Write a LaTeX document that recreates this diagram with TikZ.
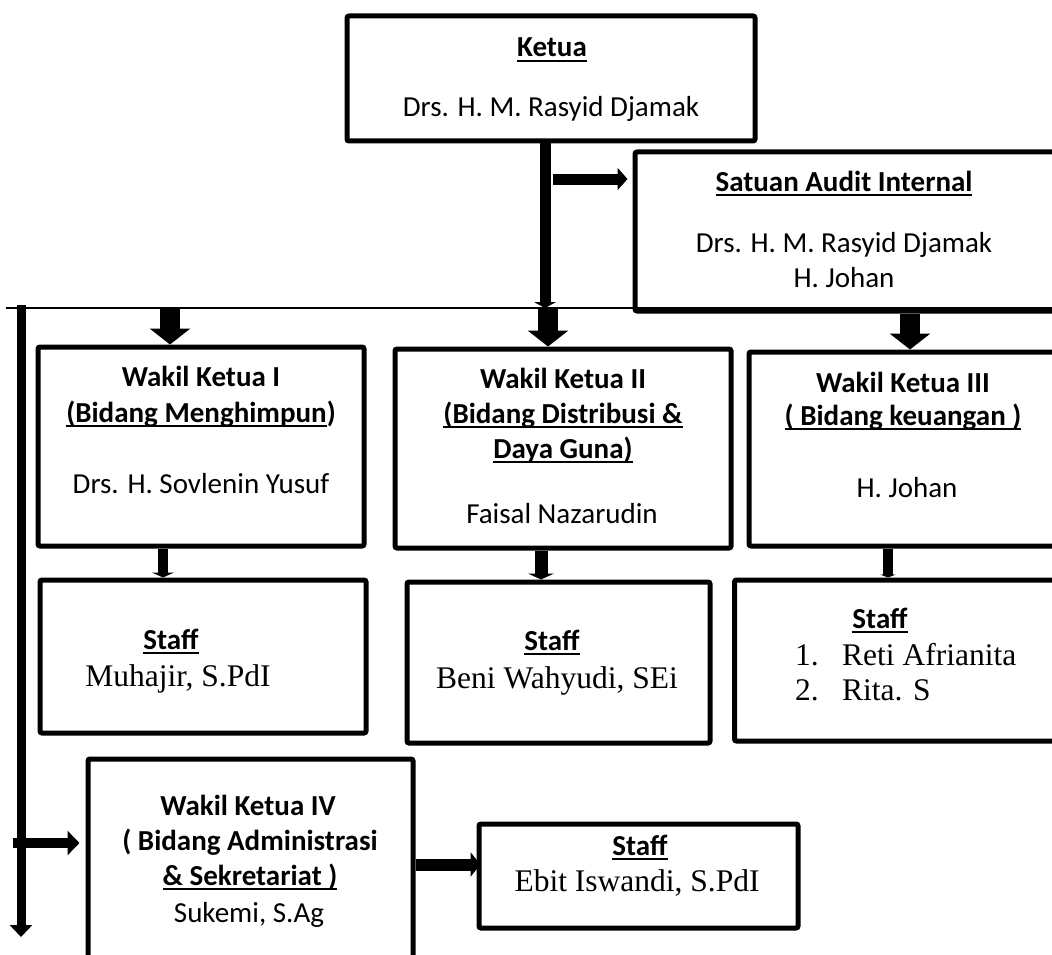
\documentclass[tikz,border=0pt]{standalone}
\usepackage{fontspec}
\setmainfont{Carlito}
\newfontfamily\tnr{Liberation Serif}
\usetikzlibrary{arrows.meta}
\newcommand{\myul}[1]{\leavevmode\setbox0\hbox{#1}\rlap{\rule[-5pt]{\wd0}{2pt}}\box0}
\begin{document}
\begin{tikzpicture}[x=1pt,y=-1pt,
  box/.style={draw, line width=5pt, rounded corners=2pt, inner sep=0pt},
  hd/.style={anchor=base, inner sep=0pt, font=\fontsize{29}{35}\selectfont\bfseries},
  nm/.style={anchor=base, inner sep=0pt, font=\fontsize{29}{35}\selectfont},
  tn/.style={anchor=base, inner sep=0pt, font=\tnr\fontsize{31.5}{37}\selectfont},
  bigarrow/.style={line width=20pt, -{Triangle[length=16pt,width=40pt]}},
  kline/.style={line width=11pt, -{Triangle[length=6pt,width=22pt]}},
  harrow/.style={line width=11pt, -{Triangle[length=10pt,width=22pt]}},
  smallarrow/.style={line width=10pt, -{Triangle[length=5pt,width=22pt]}},
  thin line/.style={line width=2pt},
]
\useasboundingbox (0,0) rectangle (1052,955);

% boxes
\node[box, minimum width=408pt, minimum height=125pt] (ketua) at (551,78.5) {};
\node[box, minimum width=420pt, minimum height=159pt] (audit) at (845,231.5) {};
\node[box, minimum width=326pt, minimum height=199pt] (wk1) at (201,446.5) {};
\node[box, minimum width=336pt, minimum height=199pt] (wk2) at (563,448.5) {};
\node[box, minimum width=308pt, minimum height=194pt] (wk3) at (903,449) {};
\node[box, minimum width=326pt, minimum height=153pt] (st1) at (203,656.5) {};
\node[box, minimum width=303pt, minimum height=161pt] (st2) at (558.5,662.5) {};
\node[box, minimum width=325pt, minimum height=161pt] (st3) at (897,660.5) {};
\node[box, minimum width=325pt, minimum height=211pt] (wk4) at (250.5,864.5) {};
\node[box, minimum width=319pt, minimum height=104pt] (st4) at (638.5,876) {};

% texts
\node[hd] (tk1) at (552,57) {\myul{Ketua}};
\node[nm] (tk2) at (551,117) {Drs. H. M. Rasyid Djamak};

\node[hd] (ta1) at (844,191) {\myul{Satuan Audit Internal}};
\node[nm] (ta2) at (844,252) {Drs. H. M. Rasyid Djamak};
\node[nm] (ta3) at (844,287) {H. Johan};

\node[hd] (tw11) at (201,386) {Wakil Ketua I};
\node[hd] (tw12) at (201,422) {\myul{(Bidang Menghimpun})};
\node[nm] (tw13) at (201,493) {Drs. H. Sovlenin Yusuf};

\node[hd] (tw21) at (563,388) {Wakil Ketua II};
\node[hd] (tw22) at (563,423) {\myul{(Bidang Distribusi \&}};
\node[hd] (tw23) at (563,458) {\myul{Daya Guna)}};
\node[nm] (tw24) at (562,523) {Faisal Nazarudin};

\node[hd] (tw31) at (903,392) {Wakil Ketua III};
\node[hd] (tw32) at (903,425) {\myul{( Bidang keuangan )}};
\node[nm] (tw33) at (907,497) {H. Johan};

\node[hd] (ts11) at (171,649) {\myul{Staff}};
\node[tn] (ts12) at (178,686) {Muhajir, S.PdI};

\node[hd] (ts21) at (552,650) {\myul{Staff}};
\node[tn] (ts22) at (557,688) {Beni Wahyudi, SEi};

\node[hd] (ts31) at (880,628) {\myul{Staff}};
\node[tn, anchor=base west] (ts32) at (795,665) {1.};
\node[tn, anchor=base west] (ts33) at (842,665) {Reti Afrianita};
\node[tn, anchor=base west] (ts34) at (795,700) {2.};
\node[tn, anchor=base west] (ts35) at (842,700) {Rita. S};

\node[hd] (tw41) at (248,815) {Wakil Ketua IV};
\node[hd] (tw42) at (250,850) {( Bidang Administrasi};
\node[hd] (tw43) at (250,885) {\myul{\& Sekretariat )}};
\node[nm] (tw44) at (249,922) {Sukemi, S.Ag};

\node[hd] (ts41) at (640,855) {\myul{Staff}};
\node[tn] (ts42) at (637,891) {Ebit Iswandi, S.PdI};

% connector coordinates
\coordinate (hl) at (6,308);
\coordinate (hr) at (1060,308);
\coordinate (jc) at (545,308);
\coordinate (b1) at (170,309);
\coordinate (b2) at (548,309);
\coordinate (sa) at (553,179);
\coordinate (lt) at (21,305);
\coordinate (lb) at (21,937);
\coordinate (l4) at (13,843);
\path ([xshift=65pt]audit.south) coordinate (a3);
\path ([xshift=-38pt]wk1.south) coordinate (w1s);
\path ([xshift=-22pt]wk2.south) coordinate (w2s);
\path ([xshift=-15pt]wk3.south) coordinate (w3s);

% connectors
\draw[thin line] (hl) -- (hr);
\draw[kline] ([xshift=-6pt]ketua.south) -- (jc);
\draw[harrow] (sa) -- ([xshift=-5pt]audit.west |- sa);
\draw[bigarrow] (b1) -- (b1 |- wk1.north);
\draw[bigarrow] (b2) -- (b2 |- wk2.north);
\draw[bigarrow] (a3) -- (a3 |- wk3.north);
\draw[smallarrow] (w1s) -- (w1s |- st1.north);
\draw[line width=13pt, -{Triangle[length=6pt,width=26pt]}] (w2s) -- (w2s |- st2.north);
\draw[line width=10pt, -{Triangle[length=3pt,width=16pt]}] (w3s) -- (w3s |- st3.north);
\draw[line width=9pt, -{Triangle[length=12pt,width=22pt]}] (lt) -- (lb);
\draw[line width=10pt, -{Triangle[length=12pt,width=24pt]}] (l4) -- ([xshift=-6pt]wk4.west |- l4);
\draw[line width=12pt, -{Triangle[length=10pt,width=24pt]}, shorten >=-4pt] (wk4.east) -- (st4.west |- wk4.east);
\end{tikzpicture}
\end{document}
